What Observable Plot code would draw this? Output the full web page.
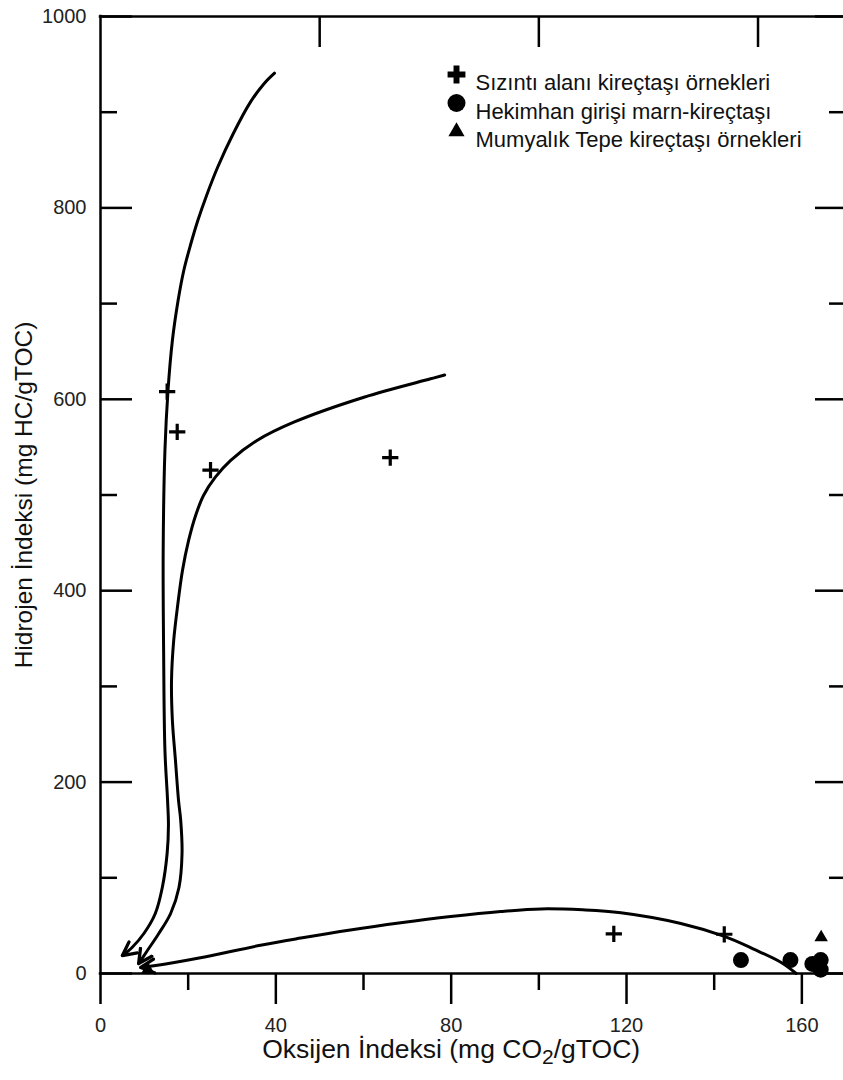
<!DOCTYPE html>
<html><head><meta charset="utf-8">
<script src="https://cdn.jsdelivr.net/npm/d3@7"></script>
<script src="https://cdn.jsdelivr.net/npm/@observablehq/plot@0.6"></script>
<style>body{margin:0;background:#fff} #chart svg{display:block}</style>
</head><body><div id="chart"></div>
<script>
// ---- tick values and labels ----
const xMajorTicks = [0, 40, 80, 120, 160];
const xMinorTicks = [20, 60, 100, 140];
const xTopTicks = [50, 100, 150];
const yMajorTicks = [0, 200, 400, 600, 800, 1000];
const yMinorTicks = [100, 300, 500, 700, 900];
const xTitleParts = ["Oksijen İndeksi (mg CO", "2", "/gTOC)"];
const yTitle = "Hidrojen İndeksi (mg HC/gTOC)";
const legendLabels = ["Sızıntı alanı kireçtaşı örnekleri", "Hekimhan girişi marn-kireçtaşı", "Mumyalık Tepe kireçtaşı örnekleri"];
const legendSymbols = ["cross", "circle", "triangle"];

// ---- sample points ----
const sizintiOI = [15.2, 17.5, 25.1, 66.1, 117.1, 142.3];
const sizintiHI = [608, 566, 526, 539, 41.5, 41];
const hekimhanOI = [146.1, 157.4, 162.4, 164.3, 164.3];
const hekimhanHI = [14, 14, 10, 14, 4];
const mumyalikOI = [164.4, 10.8];
const mumyalikHI = [37.7, 4];

// ---- evolution curves (Type I, II, III) ----
const typeI_OI = [39.7, 37.3, 34.2, 30.3, 26.7, 24.2, 22.2, 20.5, 19.0, 17.7, 16.4, 15.4, 14.7, 14.3, 14.4, 14.7, 15.3, 15.5, 15.2, 14.1, 12.5, 9.9, 7.2, 5.0];
const typeI_HI = [940.8, 929.8, 910.5, 877.7, 842.2, 813, 786.8, 760.7, 734.6, 703.2, 661.4, 609.2, 546.5, 442, 337.5, 233, 180.8, 154.7, 125.4, 89.9, 62.7, 41.8, 27.2, 18.8];
const typeII_OI = [78.5, 75.3, 60.1, 44.1, 35.7, 29.7, 26.2, 23.5, 21.7, 20.1, 18.7, 17.6, 16.7, 16.2, 16.4, 17.1, 17.8, 18.3, 18.6, 17.9, 16.0, 13.3, 10.7, 8.7];
const typeII_HI = [625.4, 621.4, 602.2, 576.1, 557, 536.1, 518.6, 499.5, 478.6, 452.5, 421.1, 384.5, 348, 306.2, 264.4, 222.6, 180.8, 159.9, 125.4, 89.9, 62.7, 41.8, 24, 10.4];
const typeIII_OI = [158.7, 155.3, 149.0, 142.2, 132.4, 118.7, 110.0, 100.5, 91.3, 79.9, 68.5, 57.0, 45.7, 36.5, 22.8, 12.2, 9.2];
const typeIII_HI = [0, 11.5, 25.5, 39, 52.3, 63.5, 66.5, 67.5, 64.8, 59.5, 53, 45.5, 37, 29.5, 16.4, 8, 6.3];

const pts = (xs, ys) => xs.map((x, i) => ({x, y: ys[i]}));
const curves = [
  {data: pts(typeI_OI, typeI_HI), curve: "catmull-rom"},
  {data: pts(typeII_OI, typeII_HI), curve: "catmull-rom"},
  {data: pts(typeIII_OI, typeIII_HI), curve: "catmull-rom"}
];

const W = 843, H = 1080, mL = 100, mR = 0, mT = 16, mB = 107;
const pw = W - mL - mR, ph = H - mT - mB;
const font = "Liberation Sans, Arial, sans-serif";
const ink = "#000";

const marks = [
  // frame
  Plot.ruleY([0, 1000], {stroke: ink, strokeWidth: 2.5, strokeLinecap: "square"}),
  Plot.ruleX([0], {stroke: ink, strokeWidth: 2.5, strokeLinecap: "square"}),
  // bottom ticks (outward)
  Plot.tickX(xMajorTicks, {x: d => d, insetTop: ph, insetBottom: -31, stroke: ink, strokeWidth: 2.5}),
  Plot.tickX(xMinorTicks, {x: d => d, insetTop: ph, insetBottom: -17, stroke: ink, strokeWidth: 2.5}),
  // top ticks (inward)
  Plot.tickX(xTopTicks, {x: d => d, insetBottom: ph - 31, stroke: ink, strokeWidth: 2.5}),
  // left ticks (inward)
  Plot.tickY(yMajorTicks, {y: d => d, insetRight: pw - 32, stroke: ink, strokeWidth: 2.5}),
  Plot.tickY(yMinorTicks, {y: d => d, insetRight: pw - 17, stroke: ink, strokeWidth: 2.5}),
  // right ticks (inward)
  Plot.tickY(yMajorTicks, {y: d => d, insetLeft: pw - 28, stroke: ink, strokeWidth: 2.5}),
  Plot.tickY(yMinorTicks, {y: d => d, insetLeft: pw - 14, stroke: ink, strokeWidth: 2.5}),
  // tick labels
  Plot.text(xMajorTicks, {x: d => d, frameAnchor: "bottom", dy: 58, text: d => String(d), fontSize: 20, fill: "#222"}),
  Plot.text(yMajorTicks, {y: d => d, frameAnchor: "left", dx: -14, textAnchor: "end", text: d => String(d), fontSize: 20, fill: "#222"}),
  // axis titles
  Plot.text([xTitleParts.join("")], {x: 80, frameAnchor: "bottom", dy: 84, textAnchor: "middle", fontSize: 26.5, fill: "#111"}),
  Plot.text([yTitle], {y: 500, frameAnchor: "left", dx: -76, textAnchor: "middle", rotate: -90, fontSize: 24.5, fill: "#111"}),
  // curves with arrowheads
  ...curves.map(c => Plot.line(c.data, {x: "x", y: "y", curve: c.curve, stroke: ink, strokeWidth: 3, markerEnd: "arrow"})),
  // samples
  Plot.dot(pts(sizintiOI, sizintiHI), {x: "x", y: "y", symbol: "plus", r: 5.3, stroke: ink, strokeWidth: 3.2}),
  Plot.dot(pts(hekimhanOI, hekimhanHI), {x: "x", y: "y", symbol: "circle", r: 8, fill: ink}),
  Plot.dot(pts(mumyalikOI, mumyalikHI), {x: "x", y: "y", symbol: "triangle", r: 5, fill: ink}),
  // legend
  ...legendLabels.map((lab, i) => Plot.dot([lab], {frameAnchor: "top-left", dx: 356, dy: 58 + i * 28.5, symbol: legendSymbols[i], r: [7.5, 9, 6][i], fill: ink})),
  ...legendLabels.map((lab, i) => Plot.text([lab], {frameAnchor: "top-left", dx: 375, dy: 58 + i * 28.5, textAnchor: "start", fontSize: 22, fill: "#111"}))
];

const chart = Plot.plot({
  width: W, height: H,
  marginLeft: mL, marginRight: mR, marginTop: mT, marginBottom: mB,
  x: {domain: [0, 169.5], axis: null},
  y: {domain: [0, 1000], axis: null},
  style: {fontFamily: font, background: "#fff", overflow: "visible"},
  marks
});

// enlarge the arrowheads to match the hand-drawn V heads
d3.select(chart).selectAll("marker")
  .attr("markerWidth", 10).attr("markerHeight", 10)
  .attr("stroke-width", 1.1)
  .select("path").attr("d", "M-4.5,-2.3L0,0L-4.5,2.3");

// subscript in the x-axis title
d3.select(chart).selectAll("text").filter(function () { return this.textContent === xTitleParts.join(""); })
  .each(function () {
    const t = d3.select(this);
    t.text(null);
    t.append("tspan").text(xTitleParts[0]);
    t.append("tspan").attr("dy", 6).attr("font-size", 21).text(xTitleParts[1]);
    t.append("tspan").attr("dy", -6).text(xTitleParts[2]);
  });

document.getElementById("chart").appendChild(chart);
</script>
</body></html>
